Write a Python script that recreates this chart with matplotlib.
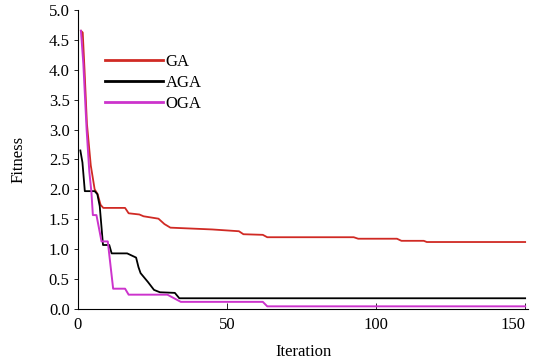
import matplotlib
matplotlib.use("Agg")
import matplotlib.pyplot as plt

# GA / AGA / OGA convergence curves
ga_it = [1.0, 1.6, 2.2, 3.0, 4.3, 5.6, 6.6, 7.6, 8.5, 15.8, 17.0, 20.6, 22.0, 27.0, 29.0, 31.0,
         45.0, 54.0, 55.5, 62.0, 63.5, 92.5, 94.0, 107.0, 108.5, 116.0, 117.0, 150.0]
ga_val = [4.65, 4.62, 4.0, 3.1, 2.4, 2.0, 1.92, 1.74, 1.69, 1.69, 1.6, 1.58, 1.55, 1.51, 1.42, 1.36,
          1.33, 1.30, 1.25, 1.24, 1.20, 1.20, 1.175, 1.175, 1.14, 1.14, 1.12, 1.12]

aga_it = [0.8, 1.5, 2.3, 5.6, 6.5, 7.3, 8.4, 10.5, 11.3, 16.5, 19.5, 20.3, 21.0, 23.5, 25.5,
          27.5, 32.5, 34.0, 150.0]
aga_val = [2.65, 2.45, 1.97, 1.97, 1.92, 1.72, 1.07, 1.07, 0.93, 0.93, 0.86, 0.7, 0.6, 0.45, 0.32,
           0.28, 0.27, 0.18, 0.18]

oga_it = [1.0, 1.8, 2.9, 3.8, 4.5, 5.0, 6.2, 7.9, 10.0, 11.8, 15.8, 17.0, 30.0, 34.5, 62.0,
          63.5, 150.0]
oga_val = [4.65, 4.1, 3.0, 2.3, 1.96, 1.57, 1.57, 1.13, 1.13, 0.34, 0.34, 0.24, 0.24, 0.12, 0.12,
           0.045, 0.045]

x_ticks = [0, 50, 100, 150]
y_ticks = [0.0, 0.5, 1.0, 1.5, 2.0, 2.5, 3.0, 3.5, 4.0, 4.5, 5.0]

plt.rcParams['font.family'] = ['Liberation Serif', 'DejaVu Serif']

fig = plt.figure(figsize=(5.34, 3.64), dpi=100)
ax = fig.add_axes([0.146, 0.151, 0.843, 0.822])

ax.plot(ga_it, ga_val, color='#d02a24', lw=1.3, label='GA')
ax.plot(aga_it, aga_val, color='black', lw=1.3, label='AGA')
ax.plot(oga_it, oga_val, color='#cc33cc', lw=1.4, label='OGA')

ax.set_xlim(0, 151)
ax.set_ylim(0, 5.0)
ax.set_xticks(x_ticks)
ax.set_yticks(y_ticks)
ax.set_yticklabels(['%.1f' % v for v in y_ticks])

for s in ['top', 'right']:
    ax.spines[s].set_visible(False)
ax.spines['left'].set_linewidth(0.8)
ax.spines['bottom'].set_linewidth(0.8)

ax.tick_params(axis='x', direction='in', length=4, width=0.6, labelsize=12, pad=6)
ax.tick_params(axis='y', direction='out', length=3, width=0.6, labelsize=12, pad=3)
# last x label sits flush with the axis end, as in the source
ax.get_xticklabels()[-1].set_horizontalalignment('right')

ax.set_xlabel('Iteration', fontsize=12, labelpad=8)
ax.set_ylabel('Fitness', fontsize=12, labelpad=16)

leg = ax.legend(loc='upper left', bbox_to_anchor=(0.045, 0.875), frameon=False, fontsize=12,
                handlelength=3.5, handletextpad=0.15, labelspacing=0.3, borderaxespad=0)
for line in leg.get_lines():
    line.set_linewidth(2.0)

fig.savefig('out.png', dpi=100)
